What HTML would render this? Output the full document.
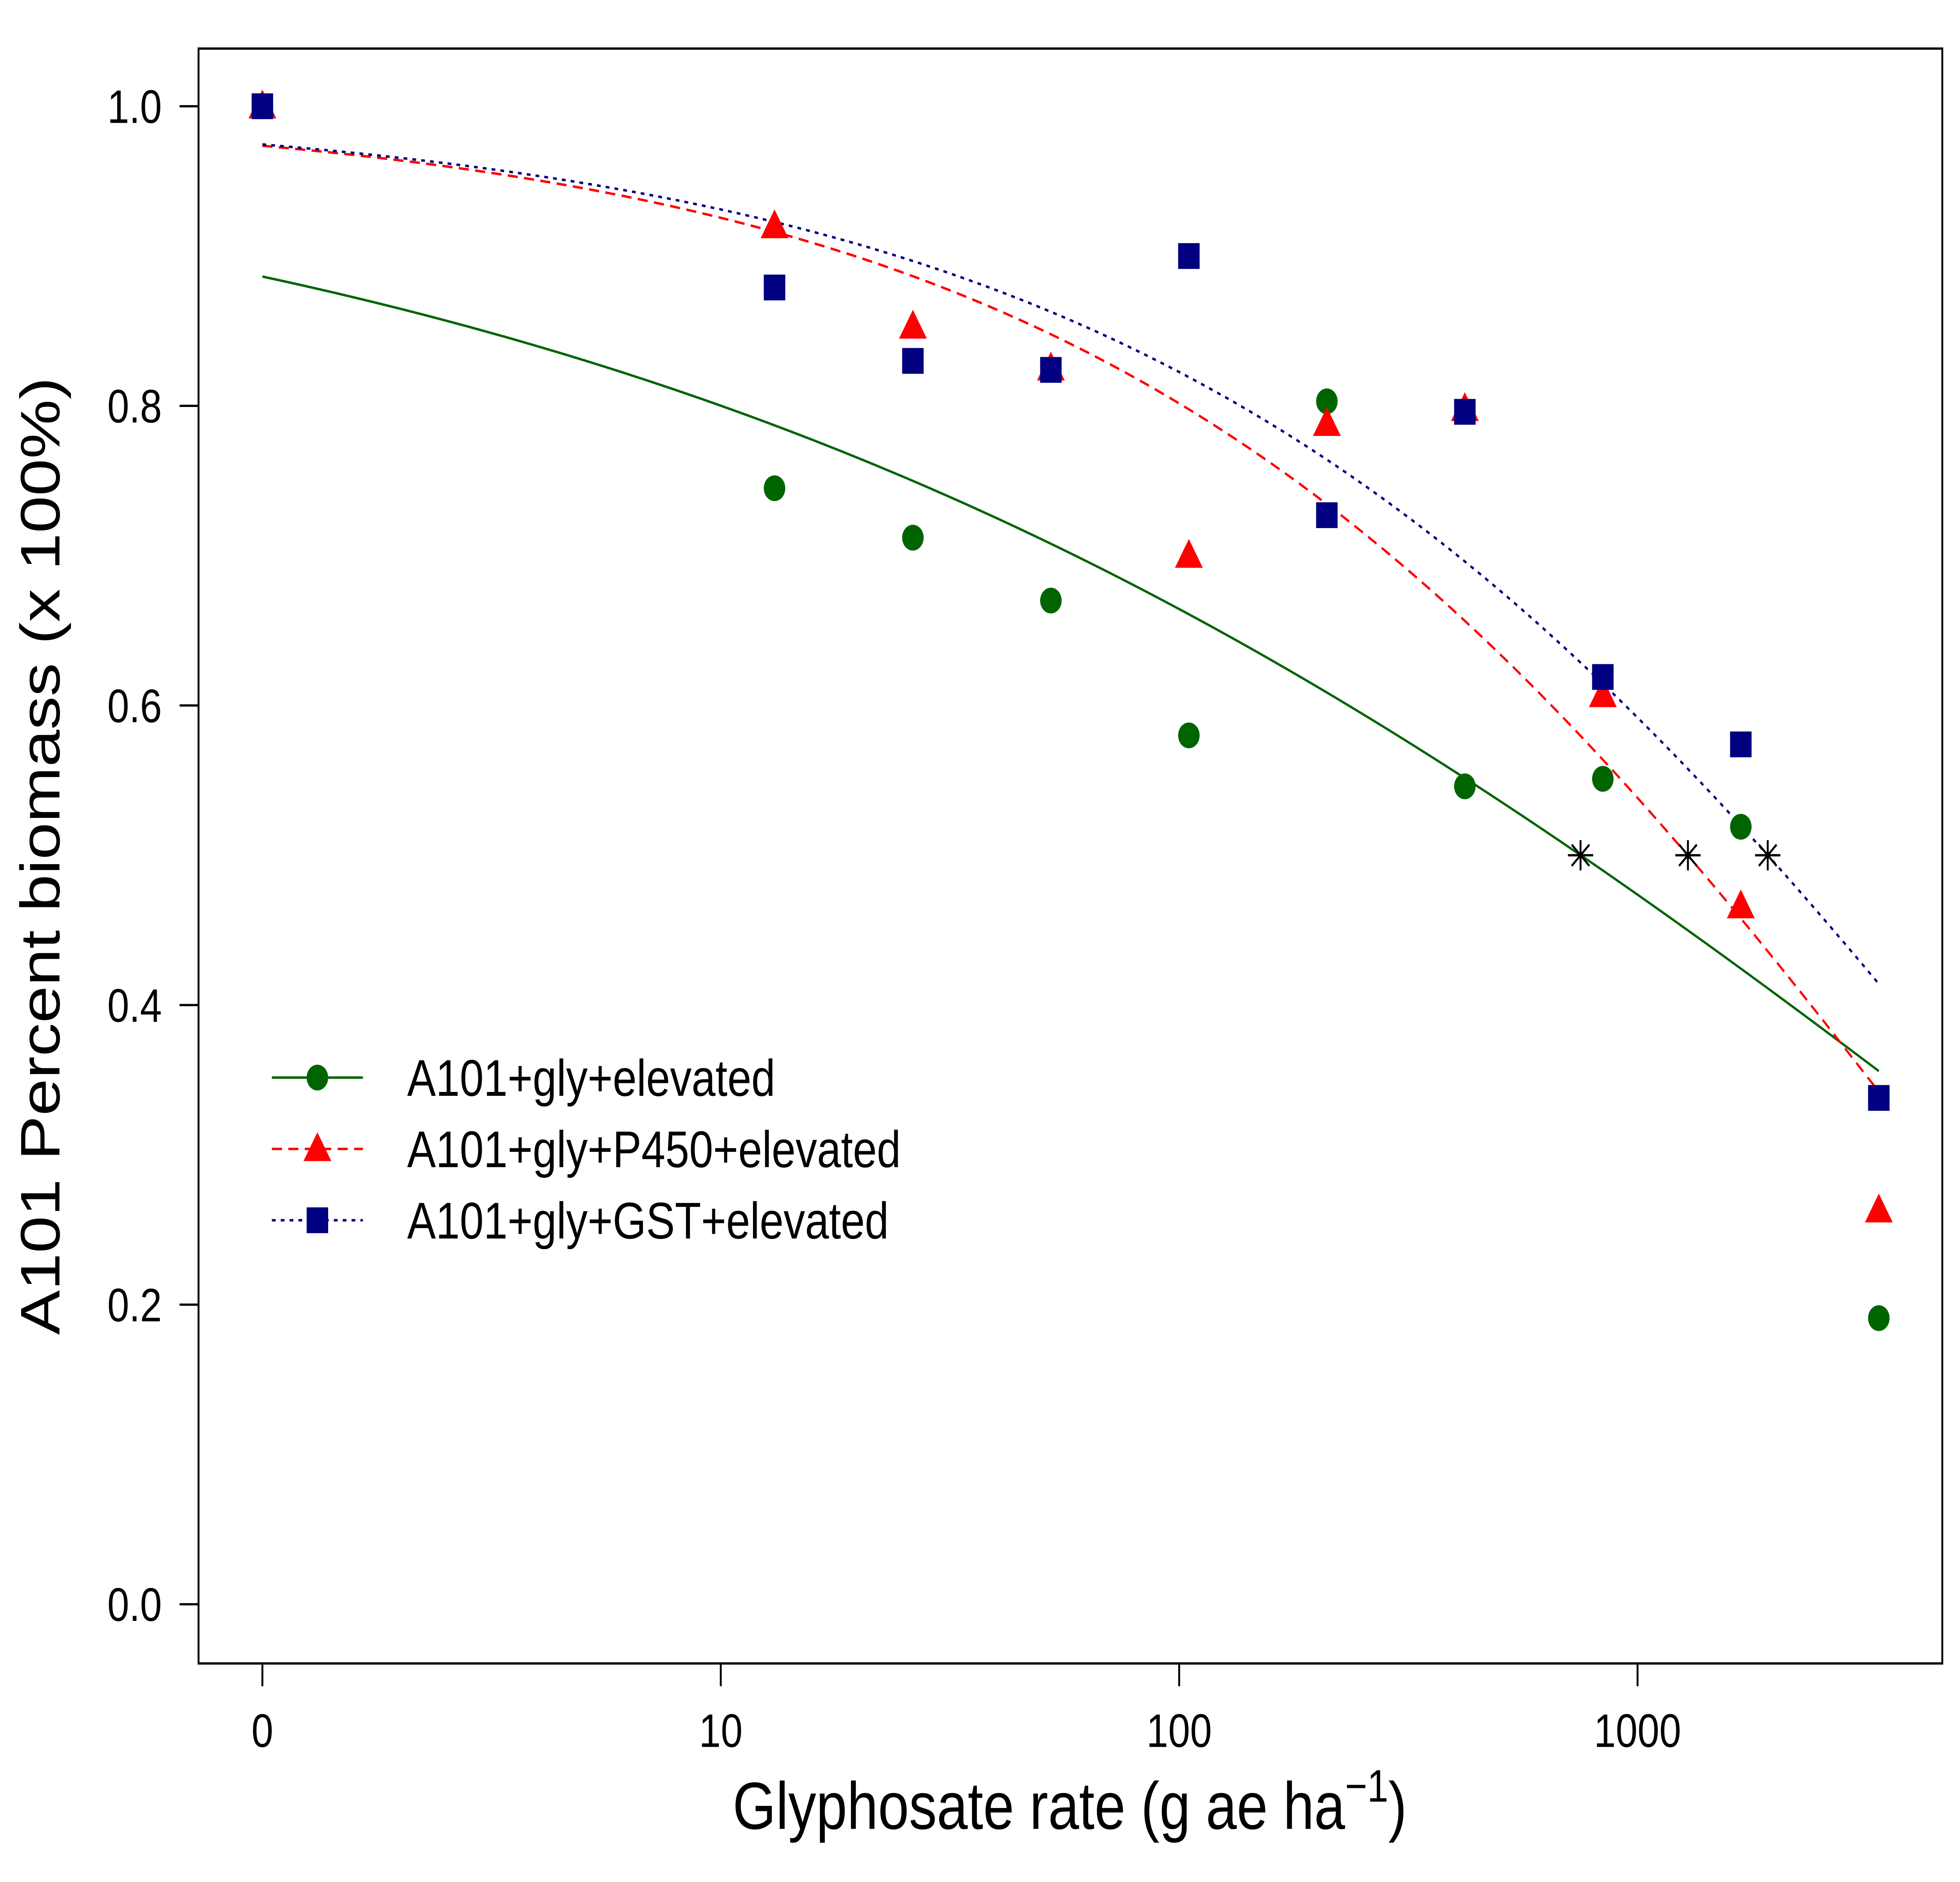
<!DOCTYPE html>
<html><head><meta charset="utf-8"><style>html,body{margin:0;padding:0;background:#fff;overflow:hidden;width:100vw;height:100vh}svg{display:block;width:100vw;height:100vh}text{font-family:"Liberation Sans",Arial,sans-serif}</style></head>
<body>
<svg id="chart" viewBox="0 0 1550 1240" preserveAspectRatio="none" xmlns="http://www.w3.org/2000/svg">
<rect x="157" y="32" width="1379" height="1064" fill="none" stroke="#000" stroke-width="1.5"/>
<g id="axes"></g>
<g id="curves"></g>
<g id="points"></g>
<g id="legend"></g>
<text transform="translate(47,564) rotate(-90)" text-anchor="middle" font-size="44">A101 Percent biomass (x 100%)</text>
<text x="846" y="1205" text-anchor="middle" font-size="44">Glyphosate rate (g ae ha<tspan dy="-18" font-size="30">−1</tspan><tspan dy="18">)</tspan></text>
</svg>
<script>
const doses=[1,13.1,26.25,52.5,105,210,420,840,1680,3360];
const greenVals=[1.0,0.745,0.712,0.670,0.580,0.803,0.546,0.551,0.519,0.191];
const redVals=[1.0,0.920,0.853,0.825,0.700,0.788,0.798,0.607,0.466,0.263];
const blueVals=[1.0,0.879,0.830,0.824,0.900,0.727,0.796,0.619,0.574,0.338];
const greenFit=[-0.5,1.0,0.273,9520];
const redFit=[-0.5,1.0,0.465,5713];
const blueFit=[-0.5,1.0,0.445,9130];
const ed50=[751,1288,1923];
const yTicks=[0,0.2,0.4,0.6,0.8,1.0];
const yTickLabels=["0.0","0.2","0.4","0.6","0.8","1.0"];
const xTicks=[1,10,100,1000];
const xTickLabels=["0","10","100","1000"];
const legendLabels=["A101+gly+elevated","A101+gly+P450+elevated","A101+gly+GST+elevated"];

const NS="http://www.w3.org/2000/svg";
const X=d=>207.5+Math.log10(d)*362.5;
const Y=v=>1057-v*987;
function mk(tag,attrs,parent){const e=document.createElementNS(NS,tag);for(const k in attrs)e.setAttribute(k,attrs[k]);parent.appendChild(e);return e;}
const axes=document.getElementById('axes'),curves=document.getElementById('curves'),pts=document.getElementById('points'),leg=document.getElementById('legend');
yTicks.forEach((t,i)=>{
 const l=mk('line',{x1:157,x2:142,y1:Y(t),y2:Y(t),stroke:'#000','stroke-width':1.5},axes);
 
 
 const tx=mk('text',{x:128,y:Y(t)+11,'text-anchor':'end','font-size':31},axes);tx.textContent=yTickLabels[i];
 
 
});
xTicks.forEach((t,i)=>{
 const l=mk('line',{x1:X(t),x2:X(t),y1:1096,y2:1111,stroke:'#000','stroke-width':1.5},axes);
 
 
 const tx=mk('text',{x:X(t),y:1151,'text-anchor':'middle','font-size':31},axes);tx.textContent=xTickLabels[i];
 
 
});
const series=[
 {vals:greenVals,fit:greenFit,color:'#006400',dash:'',shape:'circle',name:'green'},
 {vals:redVals,fit:redFit,color:'#ff0000',dash:'8,5',shape:'triangle',name:'red'},
 {vals:blueVals,fit:blueFit,color:'#000080',dash:'3,4',shape:'square',name:'blue'}];
function marker(shape,cx,cy,color,parent){
 if(shape==='circle')return mk('circle',{cx,cy,r:8.5,fill:color},parent);
 if(shape==='square')return mk('rect',{x:cx-8.5,y:cy-8.5,width:17,height:17,fill:color},parent);
 return mk('polygon',{points:`${cx},${cy-11} ${cx+11},${cy+8} ${cx-11},${cy+8}`,fill:color},parent);
}
series.forEach((s,si)=>{
 const [c0,d,b,e]=s.fit;let p='';
 for(let i=0;i<=200;i++){const lx=Math.log10(3360)*i/200;const x=Math.pow(10,lx);const y=c0+(d-c0)/(1+Math.pow(x/e,b));p+=(i?'L':'M')+X(x).toFixed(2)+','+Y(y).toFixed(2);}
 const c=mk('path',{d:p,fill:'none',stroke:s.color,'stroke-width':1.6,'stroke-dasharray':s.dash},curves);
 
 
 s.vals.forEach((v,i)=>{const m=marker(s.shape,X(doses[i]),Y(v),s.color,pts);
  
  });
 const ex=X(ed50[si]),ey=Y(0.5);
 const st=mk('path',{d:`M${ex-10},${ey}H${ex+10}M${ex},${ey-10}V${ey+10}M${ex-7},${ey-7}L${ex+7},${ey+7}M${ex-7},${ey+7}L${ex+7},${ey-7}`,stroke:'#000','stroke-width':1.5,fill:'none'},pts);
 
 
 const ly=710+si*47;
 const ll=mk('line',{x1:215,x2:287,y1:ly,y2:ly,stroke:s.color,'stroke-width':1.6,'stroke-dasharray':s.dash},leg);
 
 
 const lm=marker(s.shape,251,ly,s.color,leg);
 
 
 const lt=mk('text',{x:322,y:ly+12,'font-size':34},leg);lt.textContent=legendLabels[si];
 
 
});
</script>
</body></html>
